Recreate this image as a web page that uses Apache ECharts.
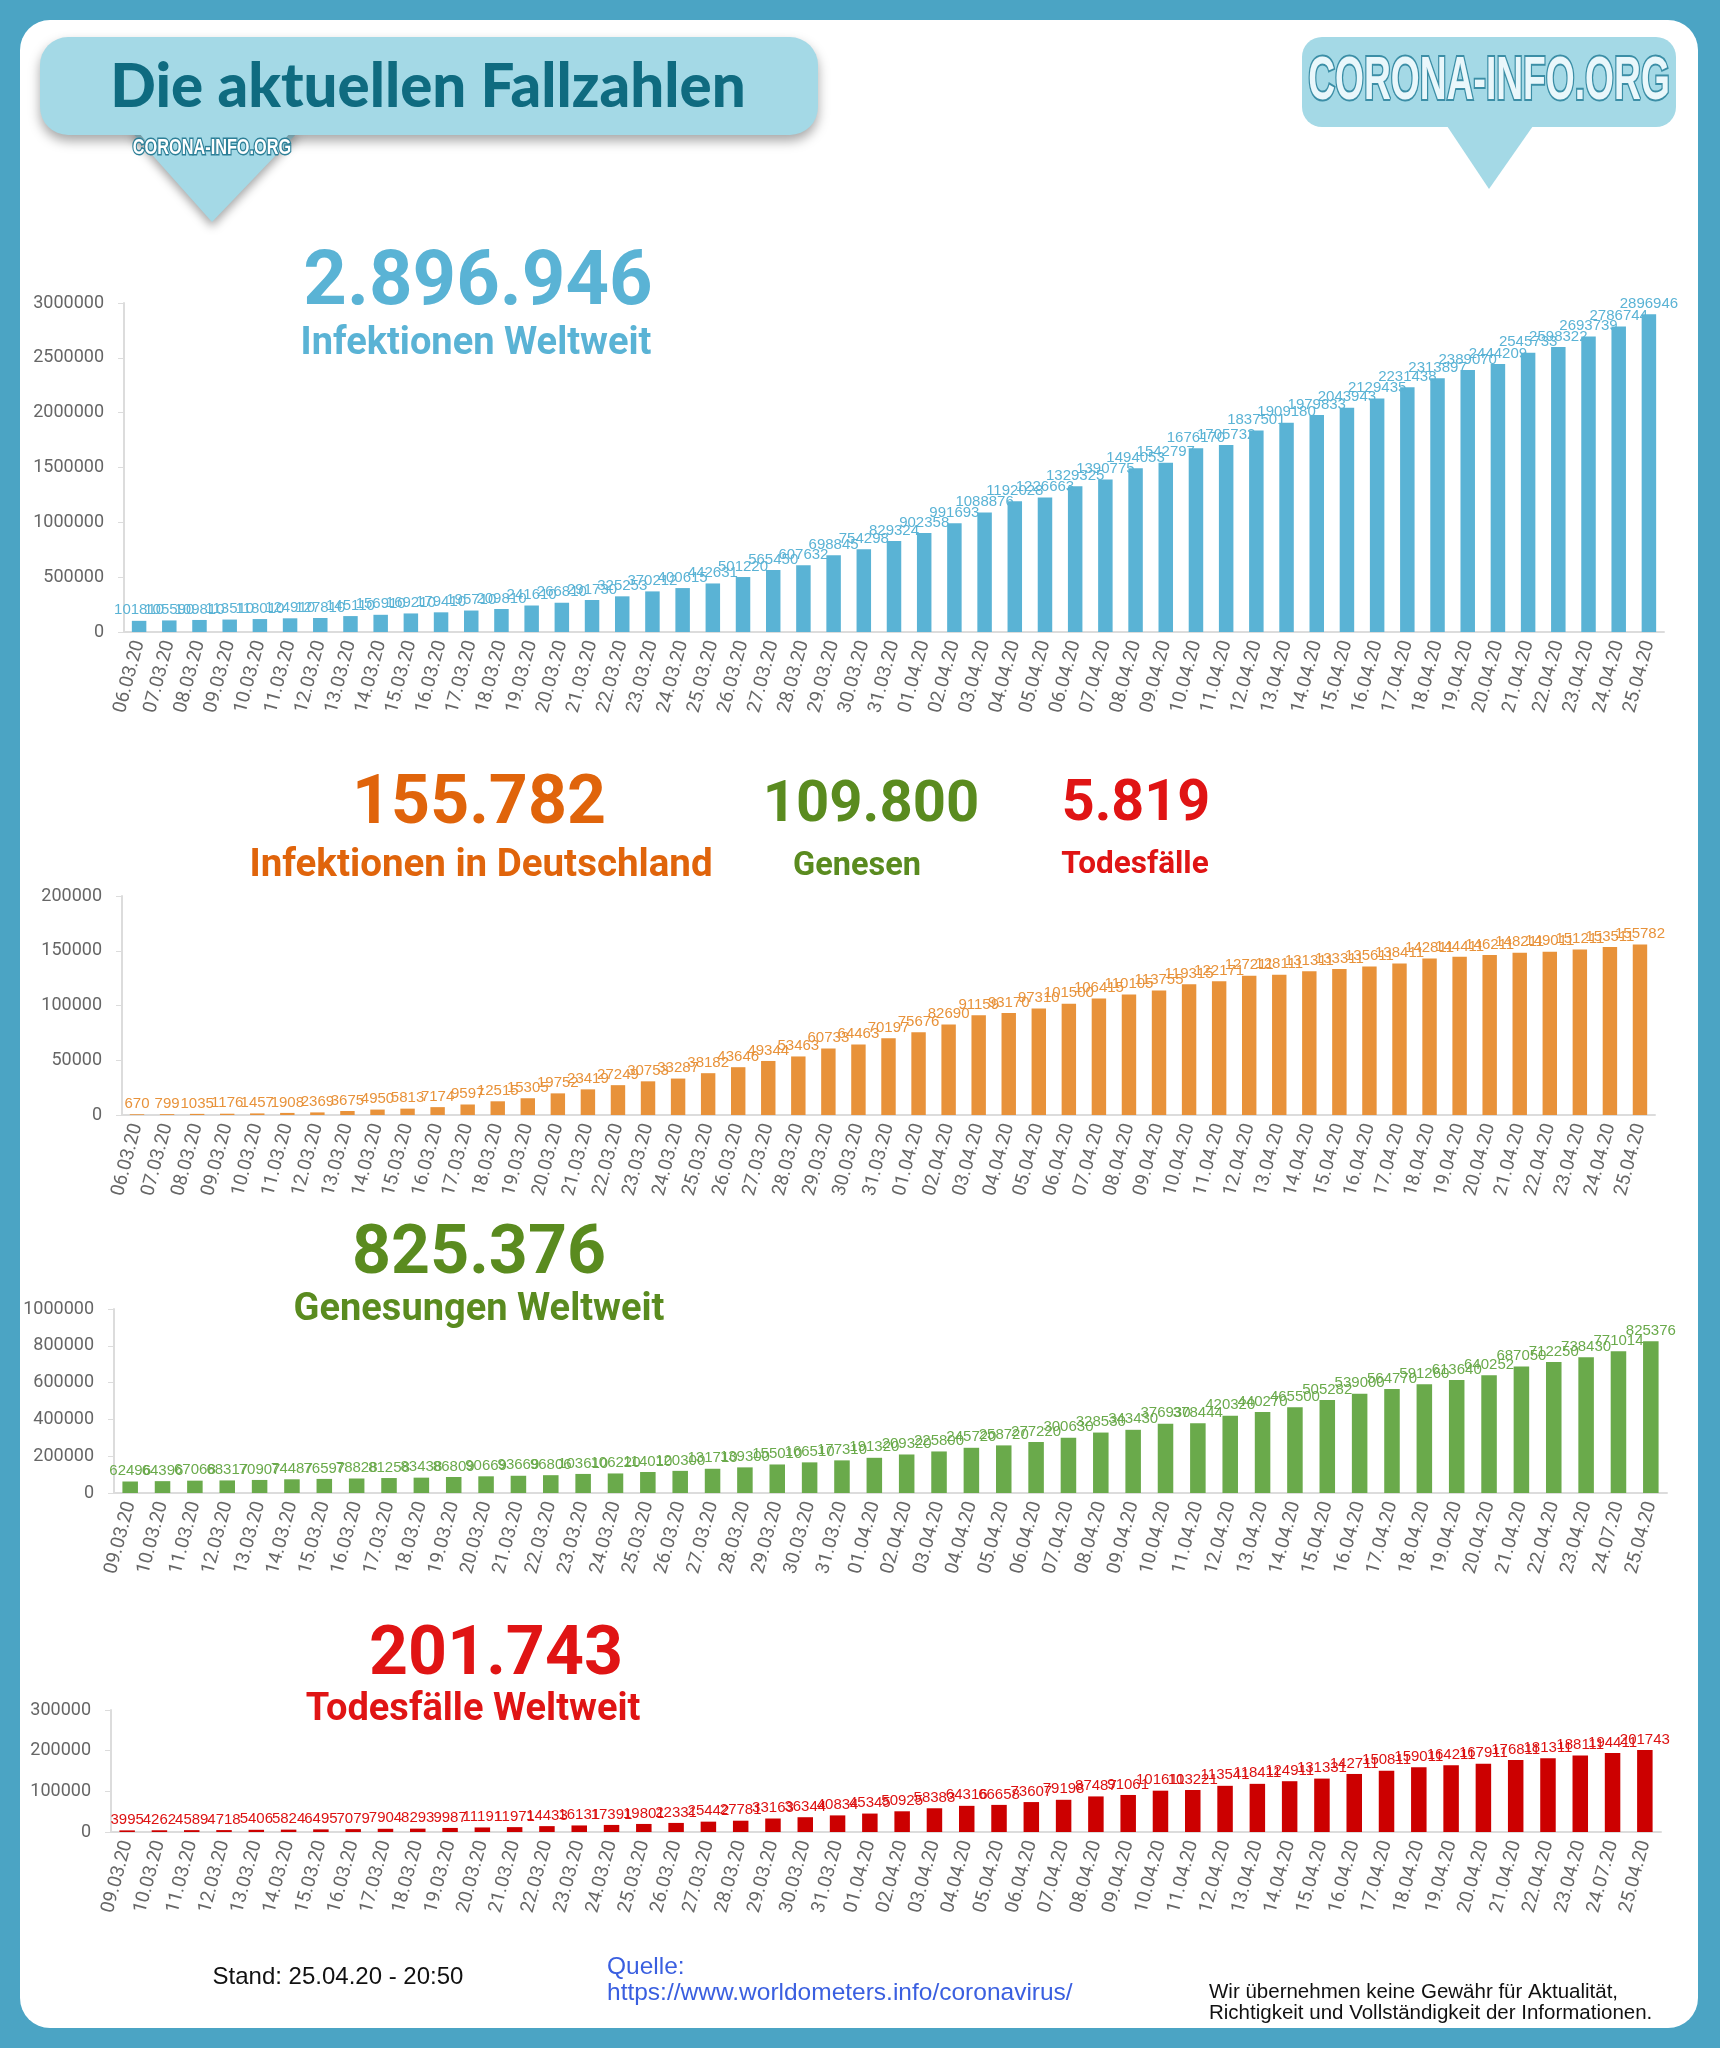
<!DOCTYPE html>
<html>
<head>
<meta charset="utf-8">
<script src="https://cdn.jsdelivr.net/npm/echarts@6/dist/echarts.min.js"></script>
<style>
  html, body { margin: 0; padding: 0; background: #4ba4c4; }
  #main { width: 1720px; height: 2048px; }
</style>
</head>
<body>
<div id="main"></div>
<script>
// Datum-Kategorien
var tageA = ['06.03.20','07.03.20','08.03.20','09.03.20','10.03.20','11.03.20','12.03.20','13.03.20','14.03.20','15.03.20',
  '16.03.20','17.03.20','18.03.20','19.03.20','20.03.20','21.03.20','22.03.20','23.03.20','24.03.20','25.03.20','26.03.20',
  '27.03.20','28.03.20','29.03.20','30.03.20','31.03.20','01.04.20','02.04.20','03.04.20','04.04.20','05.04.20','06.04.20',
  '07.04.20','08.04.20','09.04.20','10.04.20','11.04.20','12.04.20','13.04.20','14.04.20','15.04.20','16.04.20','17.04.20',
  '18.04.20','19.04.20','20.04.20','21.04.20','22.04.20','23.04.20','24.04.20','25.04.20'];
var tageB = ['09.03.20','10.03.20','11.03.20','12.03.20','13.03.20','14.03.20','15.03.20','16.03.20','17.03.20','18.03.20',
  '19.03.20','20.03.20','21.03.20','22.03.20','23.03.20','24.03.20','25.03.20','26.03.20','27.03.20','28.03.20','29.03.20',
  '30.03.20','31.03.20','01.04.20','02.04.20','03.04.20','04.04.20','05.04.20','06.04.20','07.04.20','08.04.20','09.04.20',
  '10.04.20','11.04.20','12.04.20','13.04.20','14.04.20','15.04.20','16.04.20','17.04.20','18.04.20','19.04.20','20.04.20',
  '21.04.20','22.04.20','23.04.20','24.07.20','25.04.20'];

// Infektionen weltweit
var infWelt = [101810,105590,109810,113510,118010,124910,127810,145110,156910,169210,179410,195710,209810,241610,266810,
  291730,325253,370212,400615,442631,501220,565450,607632,698845,754298,829324,902358,991693,1088876,1192028,1226663,
  1329325,1390775,1494053,1542797,1676170,1705732,1837501,1909180,1979833,2043943,2129435,2231438,2313897,2389070,
  2444209,2545733,2598322,2693739,2786744,2896946];

// Infektionen Deutschland
var infDE = [670,799,1035,1176,1457,1908,2369,3675,4950,5813,7174,9597,12515,15305,19752,23419,27249,30753,33287,38182,
  43646,49344,53463,60733,64463,70197,75676,82690,91159,93170,97310,101500,106415,110105,113755,119315,122171,127211,
  128111,131311,133311,135611,138411,142811,144411,146211,148211,149011,151211,153511,155782];

// Genesungen weltweit
var genWelt = [62496,64396,67068,68317,70907,74487,76597,78828,81258,83438,86809,90669,93669,96806,103610,106220,114010,
  120300,131710,139300,155010,166510,177310,191320,209320,225800,245720,258720,277220,300630,328530,343430,376930,
  378444,420320,440270,465500,505282,539000,564770,591260,613640,640252,687050,712250,738430,771014,825376];

// Todesfälle weltweit
var totWelt = [3995,4262,4589,4718,5406,5824,6495,7079,7904,8293,9987,11191,11971,14433,16131,17391,19801,22331,25442,
  27781,33163,36344,40834,45345,50925,58383,64316,66658,73607,79198,87487,91061,101611,103221,113541,118411,124911,
  131331,142711,150811,159011,164211,167911,176811,181311,188111,194411,201743];

var chart = echarts.init(document.getElementById('main'));

var achsenFarbe = '#dcdcdc';
var schrift = 'Roboto, "Liberation Sans", sans-serif';
var arial = '"Liberation Sans", Arial, sans-serif';

function xAchse(idx, tage) {
  return {
    type: 'category', gridIndex: idx, data: tage,
    axisLine: { lineStyle: { color: achsenFarbe, width: 2 } },
    axisTick: { lineStyle: { color: achsenFarbe }, length: 6 },
    axisLabel: { interval: 0, rotate: 75, color: '#666', fontSize: 19, fontFamily: schrift, margin: 9 }
  };
}
function yAchse(idx, max, step) {
  return {
    type: 'value', gridIndex: idx, min: 0, max: max, interval: step,
    splitLine: { show: false },
    axisLine: { show: true, lineStyle: { color: achsenFarbe, width: 2 } },
    axisTick: { show: true, lineStyle: { color: achsenFarbe }, length: 6 },
    axisLabel: { color: '#666', fontSize: 18, fontFamily: schrift, margin: 20, formatter: function (v) { return String(v); } }
  };
}
function balken(idx, werte, farbe, labelFarbe) {
  return {
    type: 'bar', xAxisIndex: idx, yAxisIndex: idx, data: werte, barWidth: '48%',
    itemStyle: { color: farbe },
    label: { show: true, position: 'top', distance: 3, color: labelFarbe, fontSize: 15, fontFamily: arial,
      formatter: function (p) { return String(p.value); } }
  };
}
// Text mit Position am Element, damit scaleX um die Mitte wirkt
function text(x, y, t, gr, farbe, extra, sx) {
  var st = { text: t, x: 0, y: 0, fill: farbe, fontSize: gr, fontWeight: 'bold', fontFamily: schrift,
    align: 'center', verticalAlign: 'middle' };
  if (extra) { for (var k in extra) st[k] = extra[k]; }
  return { type: 'text', z: 10, x: x, y: y, scaleX: sx || 1, style: st };
}
var normal = { fontWeight: 'normal', fontFamily: arial };
var normalLinks = { fontWeight: 'normal', fontFamily: arial, align: 'left' };

var option = {
  backgroundColor: '#4ba4c4',
  animation: false,
  grid: [
    { left: 124, right: 56, top: 303, height: 329 },
    { left: 122, right: 65, top: 896, height: 219 },
    { left: 114, right: 53, top: 1309, height: 184 },
    { left: 111, right: 59, top: 1710, height: 122 }
  ],
  xAxis: [xAchse(0, tageA), xAchse(1, tageA), xAchse(2, tageB), xAchse(3, tageB)],
  yAxis: [yAchse(0, 3000000, 500000), yAchse(1, 200000, 50000), yAchse(2, 1000000, 200000), yAchse(3, 300000, 100000)],
  series: [
    balken(0, infWelt, '#5ab3d5', '#5ab3d5'),
    balken(1, infDE, '#e8923a', '#e8923a'),
    balken(2, genWelt, '#6aaa4b', '#6aaa4b'),
    balken(3, totWelt, '#cc0000', '#dd1111')
  ],
  graphic: [
    // weisse Fläche
    { type: 'rect', z: -10, shape: { x: 20, y: 20, width: 1678, height: 2008, r: 30 }, style: { fill: '#ffffff' } },
    // Kopf-Sprechblase links
    { type: 'polygon', z: 1, shape: { points: [[130, 130], [300, 130], [212, 222]] },
      style: { fill: '#a4d9e6', shadowBlur: 10, shadowColor: 'rgba(0,0,0,0.35)', shadowOffsetY: 5 } },
    { type: 'rect', z: 1, shape: { x: 40, y: 37, width: 778, height: 98, r: 28 },
      style: { fill: '#a4d9e6', shadowBlur: 12, shadowColor: 'rgba(0,0,0,0.35)', shadowOffsetY: 6 } },
    { type: 'polygon', z: 2, shape: { points: [[128, 120], [302, 120], [212, 219]] }, style: { fill: '#a4d9e6' } },
    text(428, 88, 'Die aktuellen Fallzahlen', 60, '#0f6b80', { fontFamily: 'Lato, Roboto, sans-serif', fontWeight: 900 }),
    text(212, 148, 'CORONA-INFO.ORG', 22, '#ffffff', { fontFamily: arial, stroke: '#2d7f97', lineWidth: 3 }, 0.74),
    // Logo rechts
    { type: 'rect', z: 1, shape: { x: 1302, y: 37, width: 374, height: 90, r: 20 }, style: { fill: '#a4d9e6' } },
    { type: 'polygon', z: 1, shape: { points: [[1447, 126], [1533, 126], [1489, 189]] }, style: { fill: '#a4d9e6' } },
    text(1489, 82, 'CORONA-INFO.ORG', 62, '#e9f7fb', { fontFamily: arial, stroke: '#3b8ea6', lineWidth: 4 }, 0.6),
    // Überschriften
    text(478, 285, '2.896.946', 76, '#5ab3d5'),
    text(476, 344, 'Infektionen Weltweit', 38, '#5ab3d5'),
    text(479, 806, '155.782', 68, '#e0640b'),
    text(481, 866, 'Infektionen in Deutschland', 38.5, '#e0640b'),
    text(871, 806, '109.800', 58, '#5a8b1f'),
    text(857, 867, 'Genesen', 32.5, '#5a8b1f'),
    text(1136, 806, '5.819', 57.5, '#e01414'),
    text(1135, 865, 'Todesfälle', 31.5, '#e01414'),
    text(479, 1256, '825.376', 68, '#5a8b1f'),
    text(479, 1310, 'Genesungen Weltweit', 38, '#5a8b1f'),
    text(496, 1657, '201.743', 68, '#e01414'),
    text(473, 1710, 'Todesfälle Weltweit', 38, '#e01414'),
    // Fusszeile
    text(338, 1977, 'Stand: 25.04.20 - 20:50', 24, '#111', normal),
    text(607, 1967, 'Quelle:', 24.5, '#3a5fe0', normalLinks),
    text(607, 1993, 'https://www.worldometers.info/coronavirus/', 24.5, '#3a5fe0', normalLinks),
    text(1209, 1992, 'Wir übernehmen keine Gewähr für Aktualität,', 20.5, '#111', normalLinks),
    text(1209, 2013, 'Richtigkeit und Vollständigkeit der Informationen.', 20.5, '#111', normalLinks)
  ]
};

chart.setOption(option);
</script>
</body>
</html>
